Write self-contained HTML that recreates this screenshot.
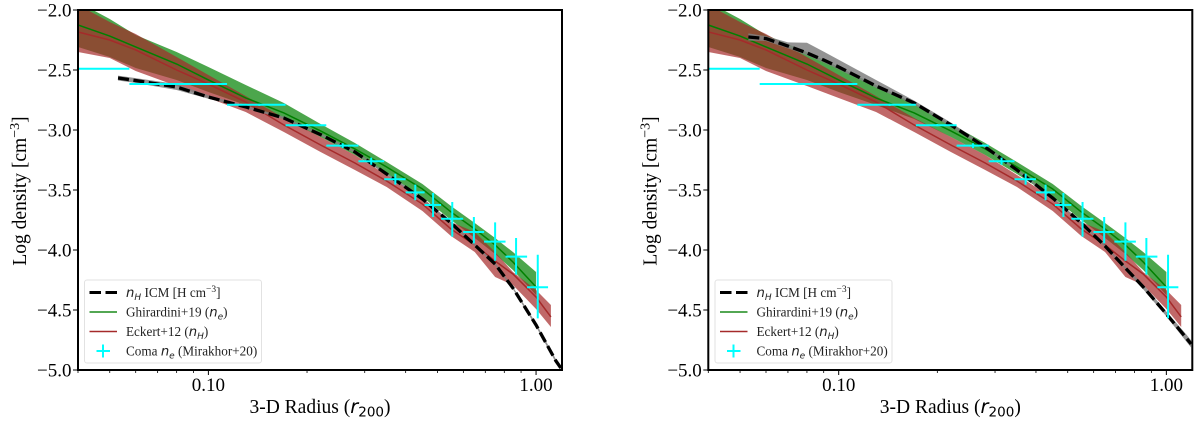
<!DOCTYPE html>
<html>
<head>
<meta charset="utf-8">
<title>Log density profiles</title>
<style>
html,body{margin:0;padding:0;background:#fff;}
svg{display:block;}
text{font-family:"Liberation Serif",serif;fill:#000;}
.tick{font-size:19px;}
.title{font-size:19.5px;}
.leg{font-size:13.2px;fill:#222;}
.m{font-family:"DejaVu Sans",sans-serif;font-style:italic;}
.d{font-family:"DejaVu Sans",sans-serif;font-style:normal;}
</style>
</head>
<body>
<svg id="chart" xmlns="http://www.w3.org/2000/svg" width="1200" height="422" viewBox="0 0 1200 422">
  <g id="panel-a"></g>
  <g id="panel-b" transform="translate(630.3 0)"></g>

  <text class="title" x="320" y="413" text-anchor="middle">3-D Radius (<tspan class="m">r</tspan><tspan class="d" font-size="13.5" dy="3.5">200</tspan><tspan dy="-3.5">)</tspan></text>
  <text class="title" transform="translate(26 191) rotate(-90)" text-anchor="middle">Log density [cm<tspan font-size="14" dy="-7">−3</tspan><tspan dy="7">]</tspan></text>

  <text class="title" x="950.3" y="413" text-anchor="middle">3-D Radius (<tspan class="m">r</tspan><tspan class="d" font-size="13.5" dy="3.5">200</tspan><tspan dy="-3.5">)</tspan></text>
  <text class="title" transform="translate(656.3 191) rotate(-90)" text-anchor="middle">Log density [cm<tspan font-size="14" dy="-7">−3</tspan><tspan dy="7">]</tspan></text>

  <g>
    <rect x="84.5" y="280" width="177" height="83" rx="2.5" fill="#fff" fill-opacity="0.8" stroke="#e2e2e2" stroke-width="1"/>
    <line x1="89.5" y1="292.5" x2="117" y2="292.5" stroke="#000" stroke-width="3" stroke-dasharray="11.5 4.5"/>
    <text class="leg" x="126" y="297"><tspan class="m">n</tspan><tspan class="m" font-size="9" dy="3">H</tspan><tspan dy="-3"> ICM [H cm</tspan><tspan font-size="9.5" dy="-5">−3</tspan><tspan dy="5">]</tspan></text>
    <line x1="89.5" y1="312" x2="117" y2="312" stroke="#1a8a1a" stroke-width="1.5"/>
    <text class="leg" x="126" y="316.5">Ghirardini+19 (<tspan class="m">n</tspan><tspan class="m" font-size="9" dy="3">e</tspan><tspan dy="-3">)</tspan></text>
    <line x1="89.5" y1="331.5" x2="117" y2="331.5" stroke="#a52a2a" stroke-width="1.5"/>
    <text class="leg" x="126" y="336">Eckert+12 (<tspan class="m">n</tspan><tspan class="m" font-size="9" dy="3">H</tspan><tspan dy="-3">)</tspan></text>
    <path d="M96.5 351H110M103 344.5V357.5" stroke="#00ffff" stroke-width="2" fill="none"/>
    <text class="leg" x="126" y="355.5">Coma <tspan class="m">n</tspan><tspan class="m" font-size="9" dy="3">e</tspan><tspan dy="-3"> (Mirakhor+20)</tspan></text>
  </g>

  <g>
    <rect x="715" y="280" width="177" height="83" rx="2.5" fill="#fff" fill-opacity="0.8" stroke="#e2e2e2" stroke-width="1"/>
    <line x1="720" y1="292.5" x2="747.5" y2="292.5" stroke="#000" stroke-width="3" stroke-dasharray="11.5 4.5"/>
    <text class="leg" x="756.5" y="297"><tspan class="m">n</tspan><tspan class="m" font-size="9" dy="3">H</tspan><tspan dy="-3"> ICM [H cm</tspan><tspan font-size="9.5" dy="-5">−3</tspan><tspan dy="5">]</tspan></text>
    <line x1="720" y1="312" x2="747.5" y2="312" stroke="#1a8a1a" stroke-width="1.5"/>
    <text class="leg" x="756.5" y="316.5">Ghirardini+19 (<tspan class="m">n</tspan><tspan class="m" font-size="9" dy="3">e</tspan><tspan dy="-3">)</tspan></text>
    <line x1="720" y1="331.5" x2="747.5" y2="331.5" stroke="#a52a2a" stroke-width="1.5"/>
    <text class="leg" x="756.5" y="336">Eckert+12 (<tspan class="m">n</tspan><tspan class="m" font-size="9" dy="3">H</tspan><tspan dy="-3">)</tspan></text>
    <path d="M727 351H740.5M733.5 344.5V357.5" stroke="#00ffff" stroke-width="2" fill="none"/>
    <text class="leg" x="756.5" y="355.5">Coma <tspan class="m">n</tspan><tspan class="m" font-size="9" dy="3">e</tspan><tspan dy="-3"> (Mirakhor+20)</tspan></text>
  </g>
</svg>

<script>
// Observed band radii (r200)
var radiusGrid = [0.04,0.05,0.06,0.08,0.10,0.13,0.17,0.22,0.28,0.35,0.45,0.55,0.65,0.75,0.85,1.0];
var eckertRadius = [0.04,0.05,0.06,0.08,0.10,0.13,0.17,0.22,0.28,0.35,0.45,0.55,0.65,0.75,0.85,1.0,1.11];

// Ghirardini+19 (log n_e)
var ghirardiniUpper = [-1.933,-2.075,-2.208,-2.35,-2.475,-2.625,-2.775,-2.95,-3.108,-3.267,-3.45,-3.633,-3.775,-3.9,-4.017,-4.183];
var ghirardiniMid   = [-2.125,-2.217,-2.308,-2.45,-2.583,-2.733,-2.858,-3.008,-3.158,-3.308,-3.492,-3.683,-3.825,-3.958,-4.1,-4.308];
var ghirardiniLower = [-2.308,-2.392,-2.483,-2.583,-2.683,-2.792,-2.908,-3.058,-3.208,-3.367,-3.558,-3.75,-3.9,-4.033,-4.167,-4.375];

// Eckert+12 (log n_H)
var eckertUpper = [-1.958,-2.1,-2.2,-2.392,-2.542,-2.717,-2.9,-3.058,-3.208,-3.375,-3.567,-3.767,-3.85,-4.017,-4.183,-4.333,-4.458];
var eckertMid   = [-2.183,-2.25,-2.333,-2.5,-2.617,-2.767,-2.958,-3.125,-3.275,-3.425,-3.617,-3.825,-3.958,-4.092,-4.2,-4.392,-4.558];
var eckertLower = [-2.35,-2.4,-2.508,-2.633,-2.733,-2.85,-3.017,-3.183,-3.333,-3.475,-3.675,-3.883,-4.017,-4.225,-4.292,-4.492,-4.642];

// Simulated ICM n_H profiles
var icmLeftRadius = [0.053,0.06,0.08,0.10,0.13,0.17,0.22,0.28,0.35,0.45,0.55,0.65,0.75,0.85,1.0,1.15,1.19];
var icmLeft   = [-2.567,-2.588,-2.642,-2.725,-2.808,-2.9,-3.038,-3.183,-3.367,-3.575,-3.775,-3.958,-4.117,-4.317,-4.625,-4.925,-4.983];
var icmLeftErr = [0.02,0.02,0.025,0.015,0.01,0.01,0.01,0.01,0.01,0.01,0.01,0.01,0.01,0.01,0.015,0.015,0.015];
var icmRightRadius = [0.053,0.06,0.07,0.08,0.09,0.10,0.13,0.17,0.22,0.28,0.35,0.45,0.55,0.65,0.75,0.85,1.0,1.15,1.19];
var icmRight  = [-2.225,-2.238,-2.3,-2.358,-2.417,-2.475,-2.633,-2.775,-2.958,-3.142,-3.333,-3.567,-3.775,-3.967,-4.15,-4.308,-4.533,-4.733,-4.783];
var icmRightErrUp = [0.03,0.02,0.03,0.085,0.07,0.06,0.05,0.02,0.02,0.015,0.01,0.01,0.01,0.01,0.01,0.02,0.02,0.03,0.03];
var icmRightErrDown = [0.03,0.02,0.02,0.02,0.02,0.02,0.015,0.015,0.015,0.01,0.01,0.01,0.01,0.01,0.01,0.02,0.02,0.03,0.03];

// Coma n_e (Mirakhor+20)
var comaRadius = [0.046,0.0857,0.143,0.2,0.257,0.314,0.372,0.428,0.485,0.555,0.646,0.75,0.869,1.012];
var comaLow    = [0.04,0.0574,0.114,0.172,0.229,0.287,0.344,0.40,0.457,0.513,0.599,0.694,0.807,0.939];
var comaHigh   = [0.0574,0.114,0.172,0.229,0.287,0.344,0.40,0.457,0.513,0.599,0.694,0.807,0.939,1.088];
var comaValue  = [-2.49,-2.617,-2.79,-2.96,-3.13,-3.26,-3.41,-3.52,-3.625,-3.74,-3.85,-3.93,-4.055,-4.31];
var comaErrUp  = [0,0.005,0.01,0.01,0.02,0.03,0.045,0.065,0.1,0.14,0.125,0.16,0.155,0.27];
var comaErrDown= [0,0.005,0.01,0.01,0.02,0.03,0.045,0.065,0.1,0.15,0.095,0.16,0.15,0.26];

// Axis ticks
var yTicks = [-2.0,-2.5,-3.0,-3.5,-4.0,-4.5,-5.0];
var yTickLabels = ["−2.0","−2.5","−3.0","−3.5","−4.0","−4.5","−5.0"];
var xTicks = [0.1,1.0];
var xTickLabels = ["0.10","1.00"];
var xMinorTicks = [0.04,0.05,0.06,0.07,0.08,0.09,0.2,0.3,0.4,0.5,0.6,0.7,0.8,0.9];

var NS = "http://www.w3.org/2000/svg";
var plotLeft = 78, plotRight = 562, plotTop = 10, plotBottom = 370;
var xMin = 0.04, xMax = 1.2, yMax = -2, yMin = -5;
function xScale(r){ return plotLeft + (plotRight-plotLeft)*Math.log10(r/xMin)/Math.log10(xMax/xMin); }
function yScale(v){ return plotTop + (plotBottom-plotTop)*(yMax-v)/(yMax-yMin); }
function node(parent, tag, attrs){
  var el = document.createElementNS(NS, tag);
  for (var k in attrs) el.setAttribute(k, attrs[k]);
  parent.appendChild(el);
  return el;
}
function linePath(xs, ys){
  return xs.map(function(r,i){ return (i?"L":"M")+xScale(r).toFixed(2)+" "+yScale(ys[i]).toFixed(2); }).join("");
}
function bandPath(xs, up, lo){
  var p = linePath(xs, up);
  for (var i = xs.length-1; i >= 0; i--) p += "L"+xScale(xs[i]).toFixed(2)+" "+yScale(lo[i]).toFixed(2);
  return p+"Z";
}

function drawPanel(root, clipId, icmRadius, icm, icmUp, icmDown){
  var defs = node(root, "defs", {});
  var cp = node(defs, "clipPath", {id: clipId});
  node(cp, "rect", {x: plotLeft, y: plotTop, width: plotRight-plotLeft, height: plotBottom-plotTop});
  var plot = node(root, "g", {"clip-path": "url(#"+clipId+")"});
  
  

  var gBand = node(plot, "path", {d: bandPath(radiusGrid, ghirardiniUpper, ghirardiniLower), fill: "#008000", "fill-opacity": 0.7});
  
  

  var eBand = node(plot, "path", {d: bandPath(eckertRadius, eckertUpper, eckertLower), fill: "#a52a2a", "fill-opacity": 0.7});
  
  

  var gLine = node(plot, "path", {d: linePath(radiusGrid, ghirardiniMid), fill: "none", stroke: "#008000", "stroke-width": 1.5});
  
  

  var eLine = node(plot, "path", {d: linePath(eckertRadius, eckertMid), fill: "none", stroke: "#a52a2a", "stroke-width": 1.5});
  
  

  var up = icm.map(function(v,i){ return v+icmUp[i]; });
  var lo = icm.map(function(v,i){ return v-icmDown[i]; });
  var iBand = node(plot, "path", {d: bandPath(icmRadius, up, lo), fill: "#808080", "fill-opacity": 0.85});
  
  

  var iLine = node(plot, "path", {d: linePath(icmRadius, icm), fill: "none", stroke: "#000", "stroke-width": 3.3, "stroke-dasharray": "11 4.5"});
  
  

  comaValue.forEach(function(v,i){
    var py = yScale(v), px = xScale(comaRadius[i]);
    var d = "M"+xScale(comaLow[i]).toFixed(2)+" "+py.toFixed(2)+"H"+xScale(comaHigh[i]).toFixed(2);
    d += "M"+px.toFixed(2)+" "+yScale(v+comaErrUp[i]).toFixed(2)+"V"+yScale(v-comaErrDown[i]).toFixed(2);
    var pt = node(plot, "path", {d: d, fill: "none", stroke: "#00ffff", "stroke-width": 2});
    
    
  });

  var frame = node(root, "rect", {x: plotLeft, y: plotTop, width: plotRight-plotLeft, height: plotBottom-plotTop, fill: "none", stroke: "#000", "stroke-width": 2});
  
  

  yTicks.forEach(function(v,i){
    var t = node(root, "line", {x1: plotLeft-5, x2: plotLeft, y1: yScale(v), y2: yScale(v), stroke: "#000", "stroke-width": 1});
    
    
    var l = node(root, "text", {x: 71.5, y: yScale(v)+6.5, "text-anchor": "end", "class": "tick"});
    l.textContent = yTickLabels[i];
    
    
  });
  xTicks.forEach(function(r,i){
    var t = node(root, "line", {x1: xScale(r), x2: xScale(r), y1: plotBottom, y2: plotBottom+5, stroke: "#000", "stroke-width": 1});
    
    
    var l = node(root, "text", {x: xScale(r), y: 391, "text-anchor": "middle", "class": "tick"});
    l.textContent = xTickLabels[i];
    
    
  });
  xMinorTicks.forEach(function(r){
    var t = node(root, "line", {x1: xScale(r), x2: xScale(r), y1: plotBottom, y2: plotBottom+3, stroke: "#000", "stroke-width": 0.8});
    
    
  });
}

drawPanel(document.getElementById("panel-a"), "clip-a", icmLeftRadius, icmLeft, icmLeftErr, icmLeftErr);
drawPanel(document.getElementById("panel-b"), "clip-b", icmRightRadius, icmRight, icmRightErrUp, icmRightErrDown);
</script>
</body>
</html>
